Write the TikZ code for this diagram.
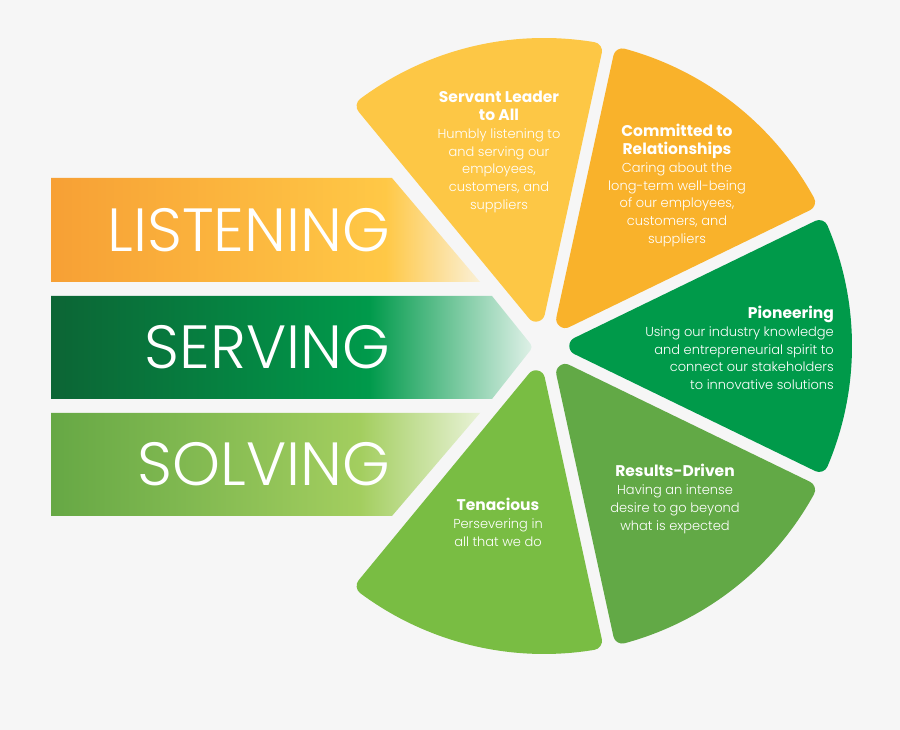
\documentclass[tikz,border=0pt]{standalone}
\usepackage{fontspec}
\setmainfont{Poppins}
\newfontfamily\thinfont{Poppins Light}
\usetikzlibrary{calc}

\definecolor{bg}{HTML}{F6F6F6}
\definecolor{servant}{HTML}{FDC745}
\definecolor{committed}{HTML}{F9B22B}
\definecolor{pioneer}{HTML}{009A4A}
\definecolor{results}{HTML}{62A946}
\definecolor{tenacious}{HTML}{79BD43}
\definecolor{lsA}{HTML}{F7A035}
\definecolor{lsB}{HTML}{FFC846}
\definecolor{lsC}{HTML}{FAF0D6}
\definecolor{svA}{HTML}{0C6535}
\definecolor{svB}{HTML}{009A4B}
\definecolor{svC}{HTML}{E0F1E8}
\definecolor{soA}{HTML}{66A845}
\definecolor{soB}{HTML}{A3CE5F}
\definecolor{soC}{HTML}{E8F2D6}

\pgfdeclarehorizontalshading{listenshade}{100bp}{color(0bp)=(lsA); color(25bp)=(lsA); color(64bp)=(lsB); color(75bp)=(lsC); color(100bp)=(lsC)}
\pgfdeclarehorizontalshading{serveshade}{100bp}{color(0bp)=(svA); color(25bp)=(svA); color(58bp)=(svB); color(75bp)=(svC); color(100bp)=(svC)}
\pgfdeclarehorizontalshading{solveshade}{100bp}{color(0bp)=(soA); color(25bp)=(soA); color(61bp)=(soB); color(75bp)=(soC); color(100bp)=(soC)}

\newcommand\hd[1]{{\rmfamily\bfseries\fontsize{15.5}{17.8}\selectfont #1}}

\tikzset{
	wedge/.style = {line width = 18pt, line join = round},
	bigword/.style = {text = white, inner sep = 0pt, font = \thinfont\fontsize{61}{61}\selectfont},
	blurb/.style = {text = white, inner sep = 0pt, align = center, font = \thinfont\fontsize{13}{17.8}\selectfont}
}

\begin{document}
\begin{tikzpicture}[x = 1pt, y = 1pt]
		\fill[bg] (0, 0) rectangle (900, 730);
		\useasboundingbox (0, 0) rectangle (900, 730);
		\coordinate (ctr) at (544, 384);
		% the five slices
		\foreach \ang/\col in {103.6/servant, 51.8/committed, 0/pioneer, -51.8/results, -103.6/tenacious}{
			\filldraw[wedge, fill = \col, draw = \col] ($(ctr) + (\ang:34.3)$) -- ($(ctr) + (\ang - 23.03:299)$)
				arc[start angle = \ang - 23.03, end angle = \ang + 23.03, radius = 299] -- cycle;}
		% the three bands
		\shade[shading = listenshade] (51, 552) -- (392, 552) -- (480, 448) -- (51, 448) -- cycle;
		\shade[shading = serveshade] (51, 434) -- (492, 434) [rounded corners = 4pt] -- (533, 383) [sharp corners] -- (492, 331) -- (51, 331) -- cycle;
		\shade[shading = solveshade] (51, 317) -- (480, 317) -- (392, 214) -- (51, 214) -- cycle;
		\node[bigword, anchor = base east] (listen) at (390, 478) {LISTENING};
		\node[bigword, anchor = base east] (serve) at (390, 361) {SERVING};
		\node[bigword, anchor = base east] (solve) at (390, 244) {SOLVING};
		% slice texts
		\node[blurb] (servantTxt) at (499, 578) {\hd{Servant Leader}\\\hd{to All}\\Humbly listening to\\and serving our\\employees,\\customers, and\\suppliers};
		\node[blurb] (committedTxt) at (677, 544.5) {\hd{Committed to}\\\hd{Relationships}\\Caring about the\\long-term well-being\\of our employees,\\customers, and\\suppliers};
		\node[blurb, align = right, anchor = east] (pioneerTxt) at (834, 382) {\hd{Pioneering}\\Using our industry knowledge\\and entrepreneurial spirit to\\connect our stakeholders\\to innovative solutions};
		\node[blurb] (resultsTxt) at (675, 231) {\hd{Results-Driven}\\Having an intense\\desire to go beyond\\what is expected};
		\node[blurb] (tenaciousTxt) at (498, 207.5) {\hd{Tenacious}\\Persevering in\\all that we do};
		\end{tikzpicture}
\end{document}
